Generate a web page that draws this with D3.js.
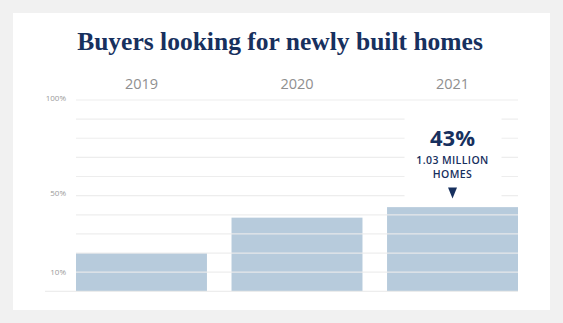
<!DOCTYPE html>
<html>
<head>
<meta charset="utf-8">
<script src="https://cdn.jsdelivr.net/npm/d3@7"></script>
<style>
  html, body { margin: 0; padding: 0; background: #f1f1f1; }
  svg { display: block; }
</style>
</head>
<body>
<svg id="chart" width="563" height="323"></svg>
<script>
// data
var years = ['2019', '2020', '2021']
var shares = [20, 38.5, 44]          // % of buyers, bar heights
var tick_values = [0, 10, 20, 30, 40, 50, 60, 70, 80, 90, 100]
var tick_labels = {100: '100%', 50: '50%', 10: '10%'}
var callout_big = '43%'
var callout_lines = ['1.03 MILLION', 'HOMES']

var navy = '#17305e'
var bar_color = '#b7cbdc'
var grid_color = '#ebebeb'

var svg = d3.select('#chart')

// white card
svg.append('rect')
	.attr('x', 13).attr('y', 13)
	.attr('width', 537).attr('height', 297)
	.attr('fill', '#ffffff')

var plot_left = 76, plot_right = 518, plot_top = 100, plot_bottom = 291.3

var x = d3.scaleBand()
	.domain(years)
	.range([plot_left, plot_right])
	.paddingInner(0.158)
	.paddingOuter(0)

var y = d3.scaleLinear()
	.domain([0, 100])
	.range([plot_bottom, plot_top])

// title
var title = svg.append('text')
	.attr('x', (77 + 483) / 2)
	.attr('y', 49.5)
	.attr('text-anchor', 'middle')
	.attr('font-family', 'Liberation Serif, serif')
	.attr('font-weight', 'bold')
	.attr('font-size', 26)
	.attr('fill', navy)
	.text('Buyers looking for newly built homes')
var tw = title.node().getComputedTextLength()
title.attr('font-size', 26 * 406 / tw)

// year labels on top
svg.append('g')
	.selectAll('text')
	.data(years)
	.enter()
	.append('text')
	.attr('x', function(d) { return x(d) + x.bandwidth() / 2 })
	.attr('y', 89.3)
	.attr('text-anchor', 'middle')
	.attr('font-family', 'Open Sans, sans-serif')
	.attr('font-size', 14.5)
	.attr('fill', '#8f8f8f')
	.text(function(d) { return d })

// bars
svg.append('g')
	.selectAll('.bar')
	.data(years)
	.enter()
	.append('rect')
	.attr('class', 'bar')
	.attr('x', function(d) { return x(d) })
	.attr('y', function(d, i) { return y(shares[i]) })
	.attr('width', x.bandwidth())
	.attr('height', function(d, i) { return plot_bottom - y(shares[i]) })
	.attr('fill', bar_color)

// gridlines over the bars
svg.append('g')
	.selectAll('line')
	.data(tick_values)
	.enter()
	.append('line')
	.attr('x1', function(d) { return d == 0 ? 45 : plot_left })
	.attr('x2', plot_right)
	.attr('y1', function(d) { return y(d) })
	.attr('y2', function(d) { return y(d) })
	.attr('stroke', grid_color)
	.attr('stroke-opacity', 0.9)
	.attr('stroke-width', 1.2)

// axis labels
svg.append('g')
	.selectAll('text')
	.data(Object.keys(tick_labels))
	.enter()
	.append('text')
	.attr('x', 66)
	.attr('y', function(d) { return y(+d) - (d == 10 ? 0 : 2) })
	.attr('dy', '0.35em')
	.attr('text-anchor', 'end')
	.attr('font-family', 'Open Sans, sans-serif')
	.attr('font-size', 8)
	.attr('fill', '#9a9a9a')
	.text(function(d) { return tick_labels[d] })

// callout over 2021
var cx = x('2021') + x.bandwidth() / 2
svg.append('rect')
	.attr('x', cx - 48).attr('y', y(97))
	.attr('width', 97)
	.attr('height', y(shares[2]) - y(97) - 3)
	.attr('fill', '#ffffff')

svg.append('text')
	.attr('x', cx)
	.attr('y', 145.5)
	.attr('text-anchor', 'middle')
	.attr('font-family', 'Open Sans, sans-serif')
	.attr('font-weight', 'bold')
	.attr('font-size', 22)
	.attr('fill', navy)
	.text(callout_big)

svg.append('g')
	.selectAll('text')
	.data(callout_lines)
	.enter()
	.append('text')
	.attr('x', cx)
	.attr('y', function(d, i) { return 164.3 + i * 13.2 })
	.attr('text-anchor', 'middle')
	.attr('font-family', 'Open Sans, sans-serif')
	.attr('font-weight', 600)
	.attr('font-size', 10.5)
	.attr('letter-spacing', 0.4)
	.attr('fill', navy)
	.text(function(d) { return d })

svg.append('path')
	.attr('d', 'M' + (cx - 4.5) + ',187.5 L' + (cx + 4.5) + ',187.5 L' + cx + ',198.5 Z')
	.attr('fill', navy)
</script>
</body>
</html>
